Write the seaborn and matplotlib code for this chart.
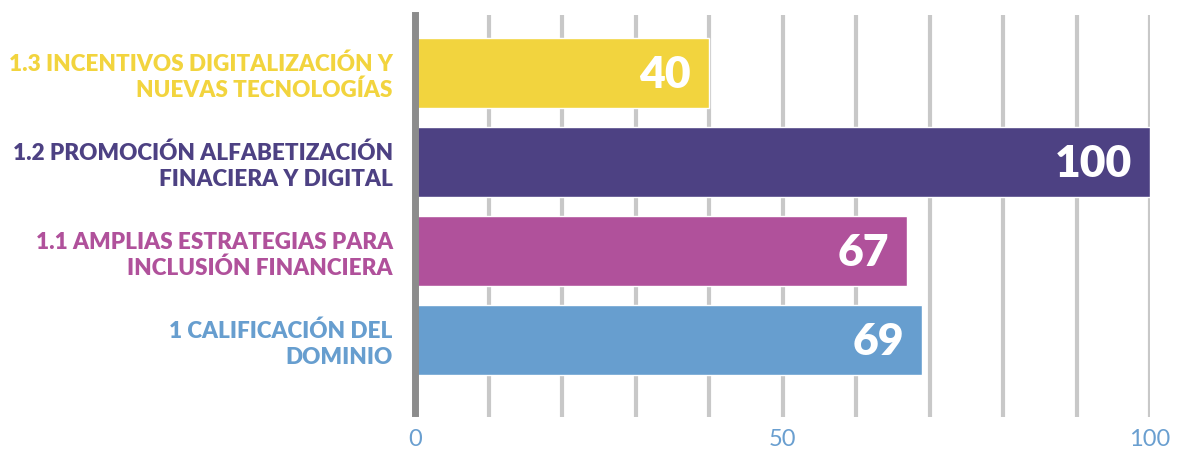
import matplotlib
matplotlib.use('Agg')
import matplotlib.pyplot as plt
import seaborn as sns
from matplotlib.ticker import MultipleLocator

# datos del gráfico
categorias = [
    '1.3 INCENTIVOS DIGITALIZACIÓN Y\nNUEVAS TECNOLOGÍAS',
    '1.2 PROMOCIÓN ALFABETIZACIÓN\nFINACIERA Y DIGITAL',
    '1.1 AMPLIAS ESTRATEGIAS PARA\nINCLUSIÓN FINANCIERA',
    '1 CALIFICACIÓN DEL\nDOMINIO',
]
valores = [40, 100, 67, 69]
colores = ['#f2d43e', '#4d4183', '#b0519b', '#679ecf']
ticks_x = [0, 50, 100]

sns.set_style('white')
plt.rcParams['font.family'] = ['Lato', 'DejaVu Sans']

fig = plt.figure(figsize=(11.81, 4.54), dpi=100)
ax = fig.add_axes([415 / 1181, 1 - 417 / 454, (1150 - 415) / 1181, (417 - 15) / 454])

sns.barplot(x=valores, y=categorias, hue=categorias, palette=colores,
            orient='h', width=0.785, legend=False, ax=ax, saturation=1)

ax.set_xlim(0, 100)
ax.set_ylim(3.863, -0.645)
ax.set_xticks(ticks_x)
ax.xaxis.set_minor_locator(MultipleLocator(10))
ax.set_axisbelow(True)
ax.grid(axis='x', which='both', color='#c8c8c8', linewidth=3)
ax.grid(axis='y', visible=False)

# ejes
for lado in ['top', 'right', 'bottom']:
    ax.spines[lado].set_visible(False)
ax.spines['left'].set_color('#8c8c8c')
ax.spines['left'].set_linewidth(5)
ax.spines['left'].set_bounds(-0.645, 3.815)

ax.tick_params(axis='both', which='both', length=0)
ax.tick_params(axis='x', pad=9, labelsize=17, labelcolor='#6a9fd0')
ax.tick_params(axis='y', pad=16)
ax.set_xlabel('')
ax.set_ylabel('')

for etiqueta, color in zip(ax.get_yticklabels(), colores):
    etiqueta.set_color(color)
    etiqueta.set_fontsize(16.2)
    etiqueta.set_fontweight('heavy')
    etiqueta.set_linespacing(1.3)
    etiqueta.set_ha('right')

# valores dentro de las barras
for i, v in enumerate(valores):
    ax.annotate(str(v), xy=(v, i), xytext=(-13, -10.8), textcoords='offset points',
                ha='right', va='baseline', color='white', fontsize=32,
                fontweight='heavy')

fig.savefig('out.png', dpi=100)
